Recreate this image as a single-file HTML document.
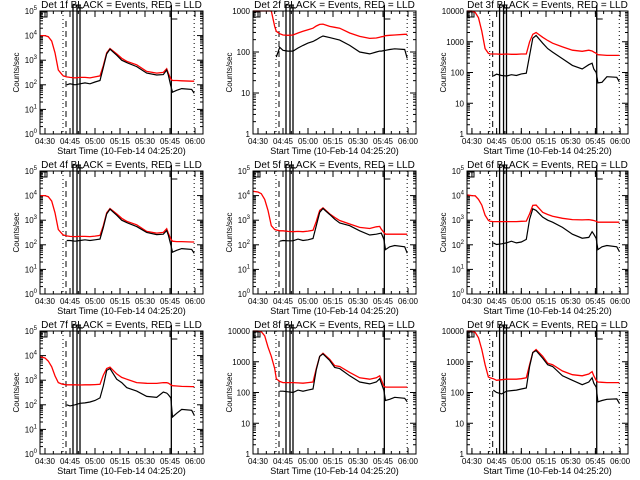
<!DOCTYPE html>
<html><head><meta charset="utf-8"><style>
html,body{margin:0;padding:0;background:#fff;}
svg{display:block;font-family:"Liberation Sans",sans-serif;}
</style></head><body>
<svg id="chart" width="640" height="480" viewBox="0 0 640 480" xmlns="http://www.w3.org/2000/svg">
<rect width="640" height="480" fill="#fff"/>
</svg>
<script>
// shared time axis (minutes after 04:00)
const times = [27,30,32,34,36,38,40,41,43,45,48,51,54,57,60,63,65,67,69,73,76,79,85,91,97,101,103,104,105.5,106.5,109,112,118,119.5];
const tickLabels = ["04:30","04:45","05:00","05:15","05:30","05:45","06:00"];
const tickTimes = [30,45,60,75,90,105,120];
const markerDotted = [40.8,119.5];
const markerDashed = [42.6];
const markerSolid = [46.8,49.2,51,105.8];
const detNames = ["1f","2f","3f","4f","5f","6f","7f","8f","9f"];
const yMaxExp = [5,3,4,5,5,5,5,4,4];
const N = null;
const red1 = [1e4,1e4,9000,6000,2000,400,270,230,210,200,190,200,200,190,210,230,600,2000,3000,1800,1200,900,650,350,300,320,450,300,170,150,150,145,140,140];
const blk1 = [N,N,N,N,N,N,N,N,100,110,100,110,120,110,130,150,500,1800,2800,1600,1000,800,550,300,250,260,400,250,90,50,60,70,65,45];
const red2 = [20000,15000,10000,5000,2000,1000,420,320,280,260,255,260,290,320,350,380,430,470,480,420,400,380,290,240,215,220,230,235,240,250,255,260,270,270];
const blk2 = [N,N,N,N,N,N,N,75,130,110,105,105,125,145,165,180,200,225,245,225,210,195,145,100,90,100,105,105,108,110,115,120,115,70];
const red3 = [11000,11000,9000,6000,2200,600,420,400,400,400,390,400,390,390,400,400,1000,1750,2000,1400,1100,900,680,530,490,530,500,460,420,380,370,360,360,360];
const blk3 = [N,N,N,N,N,N,N,N,77,88,80,77,85,80,90,95,360,1300,1600,900,600,460,280,170,130,180,200,130,100,46,48,73,70,50];
const red4 = [1e4,1e4,9000,6000,2000,420,290,250,230,220,215,220,220,215,225,240,600,2000,3000,1800,1200,900,650,350,300,320,450,300,170,140,135,135,130,130];
const blk4 = [N,N,N,N,N,N,N,N,150,150,140,150,160,150,160,170,500,1800,2800,1600,1000,800,550,320,260,270,380,250,100,50,60,70,65,45];
const red5 = [15000,14000,12000,7000,2500,600,420,400,370,370,350,340,350,340,360,390,900,2500,3200,1800,1300,970,700,510,460,540,560,430,320,270,270,270,270,270];
const blk5 = [N,N,N,N,N,N,N,N,140,150,145,145,170,150,160,180,600,2100,3000,1700,1100,770,600,370,250,270,290,300,170,64,83,94,83,46];
const red6 = [10700,10000,9800,7000,4100,1600,980,900,880,880,880,880,880,880,900,920,1800,4000,4100,2100,1700,1460,1200,1060,1030,1060,1000,970,900,830,830,830,830,830];
const blk6 = [N,N,N,N,N,N,N,N,120,103,110,120,140,120,130,165,1100,2900,2500,1330,1000,830,510,270,185,200,340,270,180,64,83,94,83,54];
const red7 = [9000,8000,6000,3500,1500,800,700,680,650,650,650,640,650,650,660,680,1600,3000,3400,1800,1300,1100,800,750,740,800,790,760,650,600,580,560,550,550];
const blk7 = [N,N,N,N,N,N,N,N,100,90,100,115,120,130,150,190,580,2500,3000,1100,800,500,360,220,200,330,300,260,190,32,45,65,60,38];
const red8 = [10000,10000,9500,7000,3000,1500,600,280,230,210,210,210,205,200,210,220,600,1500,1900,1200,750,700,450,300,270,300,350,260,160,150,150,150,150,150];
const blk8 = [N,N,N,N,N,N,N,N,110,110,105,100,120,110,120,130,550,1500,1800,1100,650,600,350,220,190,220,280,200,120,55,60,70,65,50];
const red9 = [10000,10000,9000,6000,2500,800,320,300,280,250,260,270,270,270,280,300,800,2000,2500,1500,900,800,500,380,350,400,480,350,250,220,215,210,210,210];
const blk9 = [N,N,N,N,N,N,N,N,120,100,90,110,115,120,130,140,700,2000,2300,1300,800,700,350,250,180,220,300,200,150,50,55,60,62,45];
const reds = [red1,red2,red3,red4,red5,red6,red7,red8,red9];
const blks = [blk1,blk2,blk3,blk4,blk5,blk6,blk7,blk8,blk9];

const NS = "http://www.w3.org/2000/svg";
const svg = document.getElementById('chart');
function mk(tag, attrs, parent){const e=document.createElementNS(NS,tag);for(const k in attrs)e.setAttribute(k,attrs[k]);(parent||svg).appendChild(e);return e;}
const colL=[40,253,467], colR=[203,416,628];
const T0=27, T1=124.8;

for(let p=0;p<9;p++){
  const c=p%3, r=Math.floor(p/3);
  const L=colL[c], R=colR[c], top=11+160*r, bot=134+160*r;
  const emax=yMaxExp[p];
  const xs=t=>L+(t-T0)/(T1-T0)*(R-L);
  const ys=v=>{let lv=Math.log10(Math.max(v,1e-3));lv=Math.min(Math.max(lv,0),emax);return bot-lv/emax*(bot-top);};
  const g=mk('g',{});
  
  

  const title=mk('text',{x:(L+R)/2,y:top-3,'text-anchor':'middle','font-size':'10'},g);
  title.textContent='Det '+detNames[p]+' BLACK = Events, RED = LLD';
  
  

  const yt=mk('text',{x:0,y:0,'text-anchor':'middle','font-size':'8',transform:`translate(${L-21},${(top+bot)/2}) rotate(-90)`},g);
  yt.textContent='Counts/sec';
  
  

  const xt=mk('text',{x:(L+R)/2,y:bot+20,'text-anchor':'middle','font-size':'9'},g);
  xt.textContent='Start Time (10-Feb-14 04:25:20)';
  
  

  // y ticks
  for(let e=0;e<=emax;e++){
    const y=ys(Math.pow(10,e));
    mk('line',{x1:L,x2:L+6,y1:y,y2:y,stroke:'#000','stroke-width':1},g);
    mk('line',{x1:R-6,x2:R,y1:y,y2:y,stroke:'#000','stroke-width':1},g);
    const lab=mk('text',{x:L-3,y:y+3,'text-anchor':'end','font-size':'8'},g);
    if(emax===5){lab.textContent='10';const s=mk('tspan',{dy:-4,'font-size':'6'},lab);s.textContent=String(e);}
    else lab.textContent=String(Math.pow(10,e));
    
    
    if(e<emax) for(let m=2;m<10;m++){const ym=ys(m*Math.pow(10,e));
      mk('line',{x1:L,x2:L+3,y1:ym,y2:ym,stroke:'#000','stroke-width':1},g);
      mk('line',{x1:R-3,x2:R,y1:ym,y2:ym,stroke:'#000','stroke-width':1},g);}
  }
  // x ticks
  for(let i=0;i<tickTimes.length;i++){
    const x=xs(tickTimes[i]);
    mk('line',{x1:x,x2:x,y1:bot,y2:bot-6,stroke:'#000'},g);
    mk('line',{x1:x,x2:x,y1:top,y2:top+6,stroke:'#000'},g);
    const lab=mk('text',{x:x,y:bot+10,'text-anchor':'middle','font-size':'8'},g);
    lab.textContent=tickLabels[i];
    
    
  }
  for(let t=30;t<=T1;t+=5){const x=xs(t);
    mk('line',{x1:x,x2:x,y1:bot,y2:bot-3,stroke:'#000'},g);
    mk('line',{x1:x,x2:x,y1:top,y2:top+3,stroke:'#000'},g);}
  // markers
  markerDotted.forEach(t=>mk('line',{x1:xs(t),x2:xs(t),y1:top,y2:bot,stroke:'#000','stroke-dasharray':'1,3'},g));
  markerDashed.forEach(t=>mk('line',{x1:xs(t),x2:xs(t),y1:top+10,y2:bot,stroke:'#000','stroke-dasharray':'6,4'},g));
  markerSolid.forEach(t=>mk('line',{x1:xs(t),x2:xs(t),y1:top-6,y2:bot,stroke:'#000','stroke-width':1.3},g));
  // B, F, E annotations
  mk('rect',{x:L+1,y:top+1,width:6,height:5,fill:'none',stroke:'#000'},g);
  mk('path',{d:`M${xs(46.8)} ${top-6}h8M${xs(49.2)} ${top-3}h6M${xs(105.8)} ${top+2}v6h6`,stroke:'#000',fill:'none'},g);
  // series
  function path(arr){let d='',pen=false;for(let i=0;i<times.length;i++){const v=arr[i];if(v===null){pen=false;continue;}
    const x=xs(times[i]).toFixed(1),y=ys(v).toFixed(1);d+=(pen?'L':'M')+x+' '+y;pen=true;}return d;}
  const rp=mk('path',{d:path(reds[p]),stroke:'#f00',fill:'none','stroke-width':1.3},g);
  
  
  const bp=mk('path',{d:path(blks[p]),stroke:'#000',fill:'none','stroke-width':1.2},g);
  
  
  const box=mk('rect',{x:L,y:top,width:R-L,height:bot-top,fill:'none',stroke:'#000'},g);
  
  
}
</script>
</body></html>
